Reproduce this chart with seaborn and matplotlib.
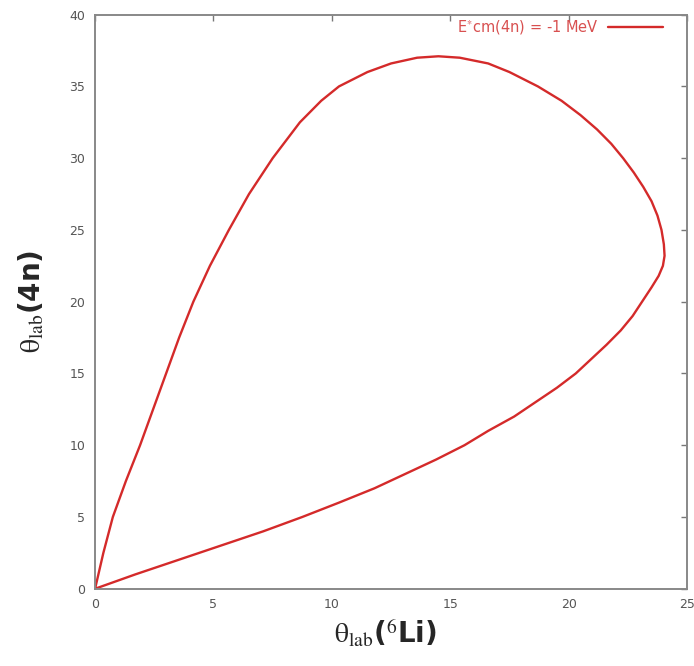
import pandas as pd
import matplotlib.pyplot as plt
import seaborn as sns

# Points, going round the loop from the origin
theta_li = [0.0, 0.35, 0.75, 1.3, 1.9, 2.45, 3.0, 3.55, 4.15, 4.85, 5.65,
            6.5, 7.5, 8.65, 9.55, 10.3, 11.5, 12.5, 13.6, 14.5, 15.4, 16.6,
            17.5, 18.7, 19.7, 20.5, 21.2, 21.8, 22.3, 22.75, 23.15, 23.5,
            23.75, 23.92, 24.02, 24.05, 23.98, 23.8, 23.5, 23.1, 22.7, 22.2,
            21.6, 20.95, 20.3, 19.5, 18.6, 17.7, 16.6, 15.6, 14.4, 13.1, 11.8,
            10.3, 8.75, 7.1, 5.3, 3.5, 1.7, 0.0]
theta_4n = [0.0, 2.5, 5.0, 7.5, 10.0, 12.5, 15.0, 17.5, 20.0, 22.5, 25.0,
            27.5, 30.0, 32.5, 34.0, 35.0, 36.0, 36.6, 37.0, 37.1, 37.0, 36.6,
            36.0, 35.0, 34.0, 33.0, 32.0, 31.0, 30.0, 29.0, 28.0, 27.0,
            26.0, 25.0, 24.0, 23.2, 22.5, 21.8, 21.0, 20.0, 19.0, 18.0,
            17.0, 16.0, 15.0, 14.0, 13.0, 12.0, 11.0, 10.0, 9.0, 8.0, 7.0,
            6.0, 5.0, 4.0, 3.0, 2.0, 1.0, 0.0]
series_label = "E$^{*}$cm(4n) = -1 MeV"

x_ticks = [0, 5, 10, 15, 20, 25]
y_ticks = [0, 5, 10, 15, 20, 25, 30, 35, 40]

df = pd.DataFrame({"li": theta_li, "n4": theta_4n, "s": series_label})

sns.set_style("white")
plt.rcParams["mathtext.fontset"] = "stix"
fig = plt.figure(figsize=(6.94, 6.66), dpi=100)
ax = fig.add_axes([0.137, 0.116, 0.853, 0.862])

sns.lineplot(data=df, x="li", y="n4", hue="s", palette=["#d42a2a"],
             sort=False, estimator=None, linewidth=1.7, ax=ax)

ax.set_xlim(0, 25)
ax.set_ylim(0, 40)
ax.set_xticks(x_ticks)
ax.set_yticks(y_ticks)
ax.tick_params(direction="in", length=4, width=1, color="#777777",
               labelsize=9, labelcolor="#555555", top=True, right=True,
               pad=7)
for sp in ax.spines.values():
    sp.set_color("#888888")
    sp.set_linewidth(1.4)

ax.set_xlabel(r"$\mathrm{\theta}_{\mathrm{lab}}$($^{\mathrm{6}}$Li)",
              fontsize=20, fontweight="bold")
ax.set_ylabel(r"$\mathrm{\theta}_{\mathrm{lab}}$(4n)", fontsize=20,
              fontweight="bold")
ax.xaxis.set_label_coords(0.49, -0.052)
ax.yaxis.set_label_coords(-0.083, 0.5)

leg = ax.legend(loc="upper right", bbox_to_anchor=(0.970, 1.004),
                frameon=False, fontsize=10.5, markerfirst=False,
                handlelength=3.8, handletextpad=0.6, borderaxespad=0)
for t in leg.get_texts():
    t.set_color("#d85050")

fig.savefig("out.png", dpi=100)
